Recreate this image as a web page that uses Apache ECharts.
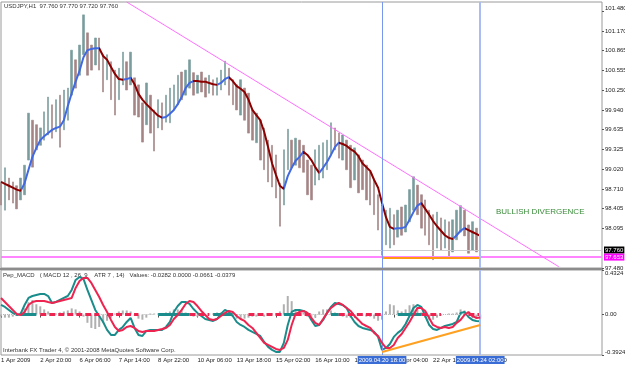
<!DOCTYPE html>
<html>
<head>
<meta charset="utf-8">
<script src="https://cdn.jsdelivr.net/npm/echarts@6/dist/echarts.min.js"></script>
<style>
  html, body { margin: 0; padding: 0; background: #fff; }
  #chart { width: 625px; height: 368px; }
</style>
</head>
<body>
<div id="chart"></div>
<script>
// USDJPY H1, resampled to ~3h bars (one slot each)
const highs = [
  98.82, 99.04, 98.88, 98.82, 98.76, 98.88, 99.08, 99.89, 99.78, 99.71,
  99.66, 99.91, 100.14, 100.02, 100.10, 100.17, 100.25, 100.28, 100.87, 100.72,
  100.95, 101.42, 101.14, 100.95, 101.06, 101.06, 100.80, 100.80, 100.69, 100.56,
  100.59, 100.84, 100.69, 100.84, 100.44, 100.33, 100.05, 100.36, 100.17, 99.94,
  100.10, 100.05, 100.17, 100.28, 100.33, 100.48, 100.53, 100.56, 100.72, 100.52,
  100.48, 100.53, 100.44, 100.48, 100.41, 100.44, 100.56, 100.70, 100.59, 100.41,
  100.33, 100.41, 100.28, 100.20, 99.94, 99.89, 99.78, 99.66, 99.47, 99.39,
  99.24, 98.80, 99.32, 99.64, 99.47, 99.50, 99.47, 99.39, 99.16, 99.08,
  99.32, 99.39, 99.43, 99.47, 99.74, 99.66, 99.58, 99.55, 99.47, 99.39,
  99.35, 99.24, 99.16, 99.08, 98.97, 98.85, 98.62, 98.46, 98.38, 98.41,
  98.31, 98.38, 98.43, 98.46, 98.70, 98.90, 98.77, 98.62, 98.54, 98.38,
  98.31, 98.35, 98.26, 98.23, 98.20, 98.23, 98.38, 98.45, 98.38, 98.15,
  98.20, 98.10, 97.92
]
const lows = [
  98.46, 98.38, 98.54, 98.49, 98.40, 98.54, 98.62, 99.16, 99.05, 99.32,
  99.39, 99.47, 99.55, 99.50, 99.60, 99.36, 99.63, 99.78, 100.17, 100.28,
  100.48, 100.80, 100.48, 100.56, 100.64, 100.56, 100.22, 100.41, 100.10, 99.86,
  100.10, 100.33, 100.25, 100.33, 99.86, 99.83, 99.44, 99.71, 99.58, 99.30,
  99.66, 99.63, 99.75, 99.74, 99.94, 100.02, 100.10, 100.17, 100.28, 100.17,
  100.20, 100.22, 100.14, 100.20, 100.17, 100.17, 100.25, 100.33, 100.17, 100.02,
  99.94, 99.86, 99.78, 99.58, 99.47, 99.43, 99.16, 99.01, 98.82, 98.74,
  98.57, 98.13, 98.46, 99.01, 99.04, 99.08, 99.04, 98.97, 98.62, 98.54,
  98.77, 98.85, 98.88, 99.01, 99.24, 99.32, 99.19, 99.16, 99.01, 98.73,
  98.85, 98.65, 98.70, 98.54, 98.46, 98.31, 98.07, 97.68, 97.84, 97.79,
  97.84, 97.96, 97.99, 98.04, 98.20, 98.38, 98.31, 98.10, 97.99, 97.84,
  97.61, 97.79, 97.76, 97.79, 97.64, 97.73, 97.92, 98.04, 97.98, 97.71,
  97.76, 97.73, 97.72
]
// u = up bar, d = down bar
const barDir = (
  'duddduuudd' + 'uuududuuud' + 'uudduddudd' + 'uududddudd' + 'uduuuuduud' +
  'udduduuudd' + 'dudddudddd' + 'dduududddd' + 'uuuuuddudd' + 'uddddddduu' +
  'duduuudddd' + 'dududuuudd' + 'udd'
).split('')
const ma = [
  98.82, 98.79, 98.76, 98.73, 98.70, 98.68, 98.80, 99.01, 99.21, 99.35,
  99.47, 99.53, 99.58, 99.63, 99.66, 99.68, 99.78, 100.00, 100.20, 100.38,
  100.55, 100.76, 100.87, 100.89, 100.90, 100.90, 100.78, 100.72, 100.61, 100.50,
  100.42, 100.41, 100.42, 100.44, 100.34, 100.19, 100.10, 100.03, 99.97, 99.91,
  99.85, 99.82, 99.83, 99.88, 99.94, 100.03, 100.14, 100.28, 100.36, 100.39,
  100.39, 100.38, 100.38, 100.36, 100.34, 100.33, 100.36, 100.42, 100.45, 100.39,
  100.31, 100.27, 100.22, 100.10, 99.94, 99.86, 99.78, 99.60, 99.36, 99.11,
  98.93, 98.76, 98.71, 98.91, 99.04, 99.15, 99.21, 99.29, 99.24, 99.16,
  99.05, 98.96, 99.04, 99.13, 99.24, 99.36, 99.43, 99.41, 99.38, 99.33,
  99.29, 99.22, 99.11, 99.05, 98.99, 98.85, 98.73, 98.49, 98.27, 98.12,
  98.09, 98.10, 98.10, 98.12, 98.23, 98.35, 98.45, 98.49, 98.40, 98.31,
  98.21, 98.13, 98.06, 97.99, 97.95, 97.93, 97.99, 98.06, 98.10, 98.07,
  98.04, 98.01, 97.98
]
// rising (u) / falling (d) stretches of the average
const maRuns = [
  [0, 5, 'd'], [5, 25, 'u'], [25, 31, 'd'], [31, 33, 'u'], [33, 41, 'd'], [41, 49, 'u'],
  [49, 55, 'd'], [55, 58, 'u'], [58, 72, 'd'], [72, 77, 'u'], [77, 81, 'd'], [81, 86, 'u'],
  [86, 100, 'd'], [100, 107, 'u'], [107, 115, 'd'], [115, 118, 'u'], [118, 122, 'd']
]
const macdMain = [
  0.093, 0.074, 0.045, 0.016, -0.004, 0.006, 0.093, 0.161, 0.180, 0.190,
  0.200, 0.200, 0.180, 0.113, 0.122, 0.142, 0.161, 0.180, 0.239, 0.336,
  0.365, 0.345, 0.239, 0.142, 0.045, -0.014, -0.072, -0.149, -0.198, -0.198,
  -0.149, -0.120, -0.072, -0.033, -0.130, -0.198, -0.208, -0.159, -0.149, -0.149,
  -0.149, -0.149, -0.120, -0.072, 0.025, 0.083, 0.122, 0.122, 0.103, 0.054,
  0.016, -0.014, -0.043, -0.052, -0.062, -0.043, 0.006, 0.045, 0.025, -0.014,
  -0.072, -0.101, -0.120, -0.149, -0.169, -0.188, -0.208, -0.266, -0.314, -0.343,
  -0.363, -0.363, -0.275, -0.101, 0.025, 0.045, 0.045, 0.035, 0.016, -0.052,
  -0.111, -0.101, -0.052, 0.016, 0.074, 0.113, 0.103, 0.093, 0.064, -0.014,
  -0.072, -0.111, -0.130, -0.140, -0.149, -0.169, -0.217, -0.343, -0.324, -0.285,
  -0.217, -0.178, -0.149, -0.091, -0.014, 0.064, 0.093, 0.074, -0.014, -0.101,
  -0.140, -0.149, -0.130, -0.111, -0.101, -0.091, -0.072, 0.016, 0.025, -0.023,
  -0.052, -0.062, -0.066
]
const macdSignal = [
  0.161, 0.122, 0.083, 0.045, 0.006, -0.004, 0.025, 0.093, 0.122, 0.132,
  0.132, 0.132, 0.122, 0.113, 0.122, 0.132, 0.142, 0.151, 0.161, 0.258,
  0.326, 0.355, 0.355, 0.307, 0.239, 0.171, 0.093, 0.025, -0.052, -0.120,
  -0.159, -0.149, -0.120, -0.111, -0.130, -0.159, -0.169, -0.159, -0.159, -0.159,
  -0.149, -0.140, -0.130, -0.101, -0.043, -0.004, 0.045, 0.103, 0.132, 0.122,
  0.083, 0.035, -0.004, -0.043, -0.052, -0.043, -0.014, 0.016, 0.035, 0.025,
  -0.014, -0.043, -0.062, -0.101, -0.130, -0.178, -0.227, -0.275, -0.295, -0.314,
  -0.334, -0.343, -0.324, -0.246, -0.101, 0.006, 0.025, 0.035, 0.016, -0.033,
  -0.081, -0.101, -0.043, 0.016, 0.064, 0.093, 0.113, 0.093, 0.064, 0.035,
  -0.014, -0.052, -0.091, -0.111, -0.130, -0.178, -0.208, -0.275, -0.324, -0.324,
  -0.295, -0.227, -0.188, -0.130, -0.072, -0.004, 0.064, 0.064, 0.035, -0.033,
  -0.101, -0.120, -0.130, -0.120, -0.130, -0.120, -0.081, -0.052, -0.004, 0.025,
  -0.014, -0.033, -0.028
]
const macdHist = [
  -0.02, -0.03, -0.03, -0.02, -0.01, 0.02, 0.06, 0.12, 0.14, 0.10,
  0.08, 0.05, 0.03, 0.01, 0.01, 0.02, 0.03, 0.04, 0.06, 0.05,
  0.03, -0.02, -0.08, -0.13, -0.14, -0.12, -0.08, -0.06, -0.03, 0.01,
  0.03, 0.04, 0.04, 0.03, -0.01, -0.04, -0.05, -0.03, 0.01, 0.01,
  0.01, 0.01, 0.02, 0.03, 0.05, 0.05, 0.04, 0.02, 0.01, -0.02,
  -0.02, -0.01, -0.01, 0.01, 0.01, 0.02, 0.02, 0.01, 0.01, -0.02,
  -0.04, -0.05, -0.04, -0.03, -0.02, -0.02, -0.01, -0.02, -0.01, 0.01,
  0.01, 0.03, 0.10, 0.18, 0.13, 0.05, 0.03, 0.02, -0.02, -0.04,
  -0.03, 0.03, 0.05, 0.05, 0.04, 0.02, -0.01, -0.02, -0.03, -0.03,
  -0.02, -0.01, -0.01, -0.02, -0.02, -0.04, -0.06, -0.05, 0.03, 0.10,
  0.09, 0.04, 0.03, 0.05, 0.09, 0.10, 0.07, 0.02, -0.03, -0.05,
  -0.05, -0.03, -0.01, 0.00, 0.01, 0.01, 0.02, 0.05, 0.04, 0.01,
  -0.03, -0.04, -0.04
]
// zero line state: g = neutral, t = teal, r = red
const zeroRuns = [
  [0, 5, 'g'], [5, 9, 't'], [10, 25, 'r'], [25, 27, 'g'], [27, 35, 'r'], [36, 39, 'g'],
  [40, 48, 't'], [48, 53, 'r'], [54, 59, 't'], [59, 63, 'g'], [63, 72, 'r'], [72, 75, 't'],
  [75, 79, 'r'], [79, 84, 'g'], [84, 86, 't'], [86, 97, 'r'], [97, 101, 'g'], [101, 107, 't'],
  [107, 112, 'r'], [112, 119, 'g'], [119, 122, 'r']
]
const timeLabels = ['1 Apr 2009', '2 Apr 20:00', '6 Apr 06:00', '7 Apr 14:00', '8 Apr 22:00',
  '10 Apr 06:00', '13 Apr 18:00', '15 Apr 02:00', '16 Apr 10:00', '17 Apr 18:00',
  '21 Apr 04:00', '22 Apr 12:00', '23 Apr 20:00']
const priceTicks = [101.48, 101.17, 100.865, 100.555, 100.25, 99.94, 99.635, 99.325,
  99.02, 98.71, 98.405, 98.095, 97.48]
const macdTicks = [0.4324, 0, -0.3924]
const priceMin = 97.48
const priceMax = 101.62
const lastPrice = 97.76
const bidLevel = 97.653
const supportLevel = 97.635
const resistance = [[32, 101.62], [142, 97.5]]
const macdTrend = [[97, -0.363], [122, -0.101]]
const markTimes = [[97, '2009.04.20 18:00'], [122, '2009.04.24 02:00']]
const SLOTS = 154

const FONT = 'Liberation Sans, Arial, sans-serif'
const UP = '#7a9c9c'
const DOWN = '#a48484'
const MA_UP = '#4169e1'
const MA_DOWN = '#8b0000'
const TEAL = '#1a8c8c'
const RED = '#ee2450'

const cats = []
for (let i = 0; i < SLOTS; i++) cats.push(String(i))

const candles = highs.map((h, i) => barDir[i] === 'u'
  ? [lows[i], h, lows[i], h]
  : [h, lows[i], lows[i], h])

const zeroStyle = (c) => ({
  g: { color: '#b8b8b8', width: 1, type: 'dotted' },
  t: { color: TEAL, width: 3, type: 'solid' },
  r: { color: RED, width: 3, type: [6, 3] }
})[c]

// fresh style object for every use, so no two markers share one
const vLineStyle = (k) => k === 0
  ? { color: '#7898f0', width: 1, type: 'solid' }
  : { color: '#a9bdf2', width: 2, type: 'solid' }

const chart = echarts.init(document.getElementById('chart'), null, { renderer: 'canvas' })

const option = {
  animation: false,
  backgroundColor: '#ffffff',
  textStyle: { fontFamily: FONT },
  grid: [
    {
      left: 1, top: 2, width: 601, height: 266, show: true, borderColor: '#9a9a9a', borderWidth: 1,
      containLabel: false, outerBoundsMode: 'none'
    },
    {
      left: 1, top: 270, width: 601, height: 85, show: true, borderColor: '#9a9a9a', borderWidth: 1,
      containLabel: false, outerBoundsMode: 'none'
    }
  ],
  xAxis: [
    {
      type: 'category', gridIndex: 0, data: cats, boundaryGap: false,
      axisLine: { show: false }, axisTick: { show: false }, axisLabel: { show: false }
    },
    {
      type: 'category', gridIndex: 1, data: cats, boundaryGap: false,
      axisLine: { show: false },
      axisTick: {
        show: true, length: 3, lineStyle: { color: '#555' },
        interval: (i) => i % 10 === 0 && i <= 120
      },
      axisLabel: {
        show: true, interval: 0, align: 'left', margin: 2, fontSize: 6, color: '#222', fontFamily: FONT,
        formatter: (v, i) => (i % 10 === 0 && timeLabels[i / 10]) ? timeLabels[i / 10] : ''
      }
    }
  ],
  yAxis: [
    {
      type: 'value', gridIndex: 0, position: 'right', min: priceMin, max: priceMax,
      splitLine: { show: false },
      axisLine: { show: false },
      axisTick: { show: true, length: 2, customValues: priceTicks, lineStyle: { color: '#555' } },
      axisLabel: {
        customValues: priceTicks, margin: 3, fontSize: 6, color: '#222', fontFamily: FONT,
        verticalAlignMinLabel: 'bottom',
        formatter: (v) => v.toFixed(3)
      }
    },
    {
      type: 'value', gridIndex: 1, position: 'right', min: -0.3924, max: 0.4324,
      splitLine: { show: false },
      axisLine: { show: false },
      axisTick: { show: true, length: 2, customValues: macdTicks, lineStyle: { color: '#555' } },
      axisLabel: {
        customValues: macdTicks, margin: 3, fontSize: 6, color: '#222', fontFamily: FONT,
        formatter: (v) => v === 0 ? '0.00' : v > 0 ? '{top|' + v.toFixed(4) + '}' : '{bot|' + v.toFixed(4) + '}',
        rich: {
          top: { fontSize: 6, color: '#222', fontFamily: FONT, padding: [7, 0, 0, 0] },
          bot: { fontSize: 6, color: '#222', fontFamily: FONT, padding: [0, 0, 5, 0] }
        }
      }
    }
  ],
  visualMap: [{
    show: false,
    seriesIndex: 1,
    dimension: 0,
    pieces: maRuns.map(([a, b, d], k) => {
      const piece = { gte: a, color: d === 'u' ? MA_UP : MA_DOWN }
      if (k === maRuns.length - 1) piece.lte = b
      else piece.lt = b
      return piece
    })
  }],
  series: [
    {
      name: 'USDJPY',
      type: 'candlestick',
      xAxisIndex: 0, yAxisIndex: 0,
      barWidth: 2,
      data: candles,
      itemStyle: { color: UP, color0: DOWN, borderColor: UP, borderColor0: DOWN, borderWidth: 0.6 },
      markLine: {
        silent: true,
        symbol: ['none', 'none'],
        label: { show: false },
        data: [
          {
            yAxis: lastPrice, lineStyle: { color: '#cccccc', width: 1, type: 'solid' },
            label: {
              show: true, position: 'end', distance: 2, formatter: lastPrice.toFixed(3),
              backgroundColor: '#000', color: '#fff', fontSize: 6, padding: [1, 1, 0, 1], fontFamily: FONT
            }
          },
          {
            yAxis: bidLevel, lineStyle: { color: '#ff84ff', width: 2, type: 'solid' },
            label: {
              show: true, position: 'end', distance: 2, formatter: bidLevel.toFixed(3),
              backgroundColor: '#ff00ff', color: '#fff', fontSize: 6, padding: [1, 1, 0, 1], fontFamily: FONT
            }
          },
          [
            { coord: resistance[0], lineStyle: { color: '#ff70ff', width: 1, type: 'solid' } },
            { coord: resistance[1] }
          ],
          [
            { coord: [markTimes[0][0], supportLevel], lineStyle: { color: '#ff9a10', width: 2, type: 'solid' } },
            { coord: [markTimes[1][0], supportLevel] }
          ]
        ]
      }
    },
    {
      name: 'MA',
      type: 'line',
      xAxisIndex: 0, yAxisIndex: 0,
      data: ma,
      symbol: 'none',
      lineStyle: { width: 2 },
      z: 3
    },
    {
      name: 'Histogram',
      type: 'bar',
      xAxisIndex: 1, yAxisIndex: 1,
      data: macdHist,
      barWidth: 2,
      itemStyle: { color: '#b0b0b0' },
      markLine: {
        silent: true,
        symbol: ['none', 'none'],
        label: { show: false },
        data: zeroRuns.map(([a, b, c]) => [
          { coord: [a, 0], lineStyle: zeroStyle(c) },
          { coord: [b, 0] }
        ])
      }
    },
    {
      name: 'MACD',
      type: 'line',
      xAxisIndex: 1, yAxisIndex: 1,
      data: macdMain,
      symbol: 'none',
      lineStyle: { color: TEAL, width: 2 },
      z: 4,
      markLine: {
        silent: true,
        symbol: ['none', 'none'],
        data: markTimes.map(([slot, text], k) => ({
          xAxis: slot,
          lineStyle: vLineStyle(k),
          label: {
            show: true, position: 'start', distance: 1, formatter: text,
            backgroundColor: '#3a6cd6', color: '#fff', fontSize: 6, padding: [1, 1, 1, 1], fontFamily: FONT
          }
        }))
      }
    },
    {
      name: 'Signal',
      type: 'line',
      xAxisIndex: 1, yAxisIndex: 1,
      data: macdSignal,
      symbol: 'none',
      lineStyle: { color: RED, width: 2 },
      z: 5,
      markLine: {
        silent: true,
        symbol: ['none', 'none'],
        label: { show: false },
        data: [[
          { coord: macdTrend[0], lineStyle: { color: '#ffa020', width: 2, type: 'solid' } },
          { coord: macdTrend[1] }
        ]]
      }
    },
    {
      // holder for the two vertical time markers in the price pane
      name: 'Markers',
      type: 'line',
      xAxisIndex: 0, yAxisIndex: 0,
      data: [],
      symbol: 'none',
      z: 1,
      markLine: {
        silent: true,
        symbol: ['none', 'none'],
        label: { show: false },
        data: markTimes.map(([slot], k) => [
          { coord: [slot, priceMin], lineStyle: vLineStyle(k) },
          { coord: [slot, priceMax] }
        ])
      }
    }
  ],
  graphic: [
    { type: 'rect', shape: { x: 0, y: 268, width: 603, height: 2 }, style: { fill: '#8c8c8c' }, silent: true },
    {
      type: 'text', left: 4, top: 3, silent: true,
      style: { text: 'USDJPY,H1  97.760 97.770 97.720 97.760', fill: '#333', font: '6px ' + FONT }
    },
    {
      type: 'text', left: 3, top: 272, silent: true,
      style: {
        text: 'Pep_MACD   ( MACD 12 , 26, 9    ATR 7 , 14)   Values: -0.0282 0.0000 -0.0661 -0.0379',
        fill: '#333', font: '6px ' + FONT
      }
    },
    {
      type: 'text', left: 3, top: 347, silent: true,
      style: { text: 'Interbank FX Trader 4, \u00a9 2001-2008 MetaQuotes Software Corp.', fill: '#333', font: '6px ' + FONT }
    },
    {
      type: 'text', left: 496, top: 208, silent: true,
      style: { text: 'BULLISH DIVERGENCE', fill: '#3a8d3a', font: '8px ' + FONT }
    }
  ]
}

chart.setOption(option)
</script>
</body>
</html>
